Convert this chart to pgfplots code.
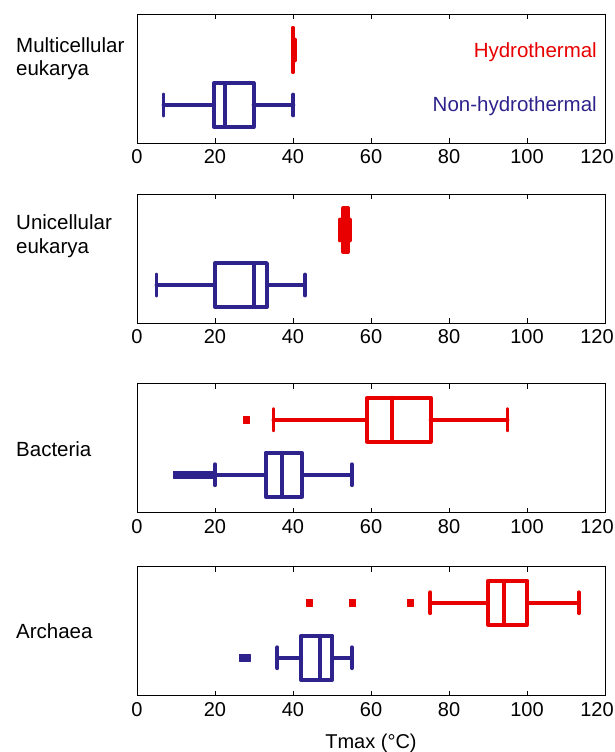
\documentclass[border=0pt]{standalone}
\usepackage{fontspec}
\setmainfont{Liberation Sans}
\usepackage{pgfplots}
\usepgfplotslibrary{statistics}
\pgfplotsset{compat=1.18}
\definecolor{myred}{RGB}{232,0,0}
\definecolor{myblue}{RGB}{46,35,140}
\pgfplotsset{
  panel/.style={
    width=468pt, height=129pt, scale only axis, anchor=south west, clip=false,
    xmin=0, xmax=120, ymin=0.31, ymax=2.655,
    ytick=\empty,
    xtick={0,20,40,60,80,100},
    extra x ticks={120},
    extra x tick style={xticklabel style={xshift=-8pt}},
    tick align=inside, major tick length=5pt,
    tick style={black, line width=0.7pt},
    axis line style={line width=0.8pt},
    ticklabel style={font=\fontsize{20}{24}\selectfont},
    /pgf/number format/assume math mode=true,
    xticklabel style={yshift=-3pt},
    boxplot/box extend=0.8,
    boxplot/whisker extend=0.38,
  },
  hyd/.style={draw=myred, line width=3.9pt, line join=round, line cap=round, solid,
    mark=square*, mark size=3.2pt, mark options={line width=0.4pt, draw=myred, fill=myred}},
  non/.style={draw=myblue, line width=3.9pt, line join=round, line cap=round, solid,
    mark=square*, mark size=3.2pt, mark options={line width=0.4pt, draw=myblue, fill=myblue}},
}
\tikzset{
  lab/.style={anchor=base west, align=left, inner sep=0pt, xshift=-121pt,
    font=\fontsize{20.5}{23.6}\selectfont},
}
\begin{document}
\begin{tikzpicture}
\path[use as bounding box] (0,0) rectangle (615pt,752pt);

% Panel 1: Multicellular eukarya
\begin{axis}[panel, at={(137pt,609pt)}]
\addplot[hyd, boxplot prepared={draw position=2, lower whisker=40, lower quartile=40, median=40, upper quartile=40, upper whisker=40.4}] coordinates {};
\addplot[non, boxplot prepared={draw position=1, lower whisker=6.8, lower quartile=19.8, median=22.6, upper quartile=29.9, upper whisker=40.1}] coordinates {};
\node[lab] at (rel axis cs:0,0.522) {Multicellular\\eukarya};
\node[anchor=base east, inner sep=0pt, xshift=-8pt, text=myred, font=\fontsize{20.5}{24}\selectfont] at (rel axis cs:1,0.664) {Hydrothermal};
\node[anchor=base east, inner sep=0pt, xshift=-8pt, text=myblue, font=\fontsize{20.5}{24}\selectfont] at (rel axis cs:1,0.243) {Non-hydrothermal};
\end{axis}

% Panel 2: Unicellular eukarya
\begin{axis}[panel, at={(137pt,429pt)}]
\addplot[hyd, boxplot prepared={draw position=2, lower whisker=52, lower quartile=52.9, median=53.5, upper quartile=54.1, upper whisker=54.5}] coordinates {};
\addplot[non, boxplot prepared={draw position=1, lower whisker=5, lower quartile=20, median=30, upper quartile=33.3, upper whisker=43.1}] coordinates {};
\node[lab] at (rel axis cs:0,0.54) {Unicellular\\eukarya};
\end{axis}

% Panel 3: Bacteria
\begin{axis}[panel, at={(137pt,239.3pt)}]
\addplot[hyd, boxplot prepared={draw position=2, lower whisker=35, lower quartile=59, median=65.3, upper quartile=75.3, upper whisker=95}] table[row sep=\\, y index=0] {v\\ 28\\};
\addplot[non, boxplot prepared={draw position=1, lower whisker=20, lower quartile=33, median=37.2, upper quartile=42.3, upper whisker=55.1}] table[row sep=\\, y index=0] {v\\ 10\\ 11\\ 12\\ 13\\ 14\\ 15\\ 16\\ 17\\ 18\\ 19\\};
\node[lab] at (rel axis cs:0,0.433) {Bacteria};
\end{axis}

% Panel 4: Archaea
\begin{axis}[panel, at={(137pt,56.3pt)}]
\addplot[hyd, boxplot prepared={draw position=2, lower whisker=75.2, lower quartile=90, median=94.2, upper quartile=100.1, upper whisker=113.3}] table[row sep=\\, y index=0] {v\\ 44.2\\ 55.2\\ 70\\};
\addplot[non, boxplot prepared={draw position=1, lower whisker=36, lower quartile=42, median=47, upper quartile=50.1, upper whisker=55.1}] table[row sep=\\, y index=0] {v\\ 27\\ 28.2\\};
\node[lab] at (rel axis cs:0,0.443) {Archaea};
\node[anchor=base, inner sep=0pt, font=\fontsize{20}{24}\selectfont] at (rel axis cs:0.5,0) [yshift=-52.8pt] {Tmax (°C)};
\end{axis}
\end{tikzpicture}
\end{document}
